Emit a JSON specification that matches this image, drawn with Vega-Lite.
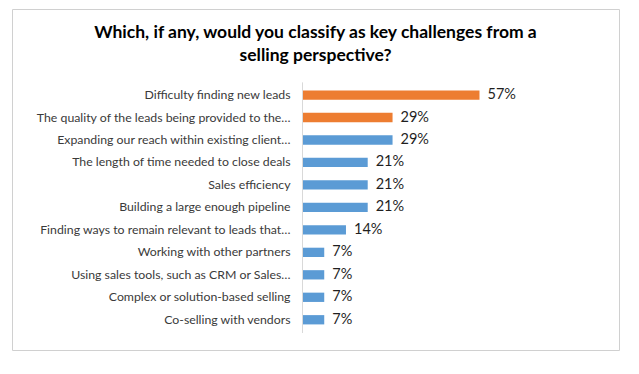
{
  "$schema": "https://vega.github.io/schema/vega-lite/v6.json",
  "width": 607,
  "height": 341,
  "autosize": {"type": "none"},
  "padding": {"left": 12, "top": 9, "right": 2, "bottom": 2},
  "background": "white",
  "title": {
    "text": ["Which, if any, would you classify as key challenges from a", "selling perspective?"],
    "font": "Lato",
    "fontSize": 17.5,
    "fontWeight": "bold",
    "color": "#000000",
    "anchor": "middle",
    "frame": "group",
    "lineHeight": 23,
    "offset": -55
  },
  "config": {
    "view": {"stroke": "#d0d0d0", "strokeWidth": 1},
    "text": {"font": "Lato"}
  },
  "data": {
    "values": [
      {"rank": 1, "label": "Difficulty finding new leads", "value": 0.57, "group": "highlight"},
      {"rank": 2, "label": "The quality of the leads being provided to the…", "value": 0.29, "group": "highlight"},
      {"rank": 3, "label": "Expanding our reach within existing client…", "value": 0.29, "group": "other"},
      {"rank": 4, "label": "The length of time needed to close deals", "value": 0.21, "group": "other"},
      {"rank": 5, "label": "Sales efficiency", "value": 0.21, "group": "other"},
      {"rank": 6, "label": "Building a large enough pipeline", "value": 0.21, "group": "other"},
      {"rank": 7, "label": "Finding ways to remain relevant to leads that…", "value": 0.14, "group": "other"},
      {"rank": 8, "label": "Working with other partners", "value": 0.07, "group": "other"},
      {"rank": 9, "label": "Using sales tools, such as CRM or Sales…", "value": 0.07, "group": "other"},
      {"rank": 10, "label": "Complex or solution-based selling", "value": 0.07, "group": "other"},
      {"rank": 11, "label": "Co-selling with vendors", "value": 0.07, "group": "other"}
    ]
  },
  "encoding": {
    "y": {"field": "rank", "type": "quantitative", "scale": {"domain": [-2.607, 12.123], "reverse": true, "nice": false, "zero": false}, "axis": null}
  },
  "layer": [
    {
      "mark": {"type": "bar", "orient": "horizontal", "size": 9.3},
      "encoding": {
        "x": {"field": "value", "type": "quantitative", "scale": {"domain": [-0.9356, 1.0193], "nice": false, "zero": false}, "axis": null},
        "x2": {"datum": 0},
        "color": {"field": "group", "type": "nominal", "scale": {"domain": ["highlight", "other"], "range": ["#ED7D31", "#5B9BD5"]}, "legend": null}
      }
    },
    {
      "mark": {"type": "rule", "color": "#d9d9d9", "strokeWidth": 1},
      "encoding": {
        "x": {"datum": 0, "type": "quantitative"},
        "y": {"datum": 0.46},
        "y2": {"datum": 11.56}
      }
    },
    {
      "mark": {"type": "text", "align": "right", "baseline": "middle", "dx": -12, "fontSize": 12.3, "color": "#3a3a3a"},
      "encoding": {
        "x": {"datum": 0, "type": "quantitative"},
        "text": {"field": "label"}
      }
    },
    {
      "mark": {"type": "text", "align": "left", "baseline": "middle", "dx": 8, "fontSize": 14.5, "color": "#1f1f1f"},
      "encoding": {
        "x": {"field": "value", "type": "quantitative"},
        "text": {"field": "value", "format": ".0%"}
      }
    }
  ]
}
